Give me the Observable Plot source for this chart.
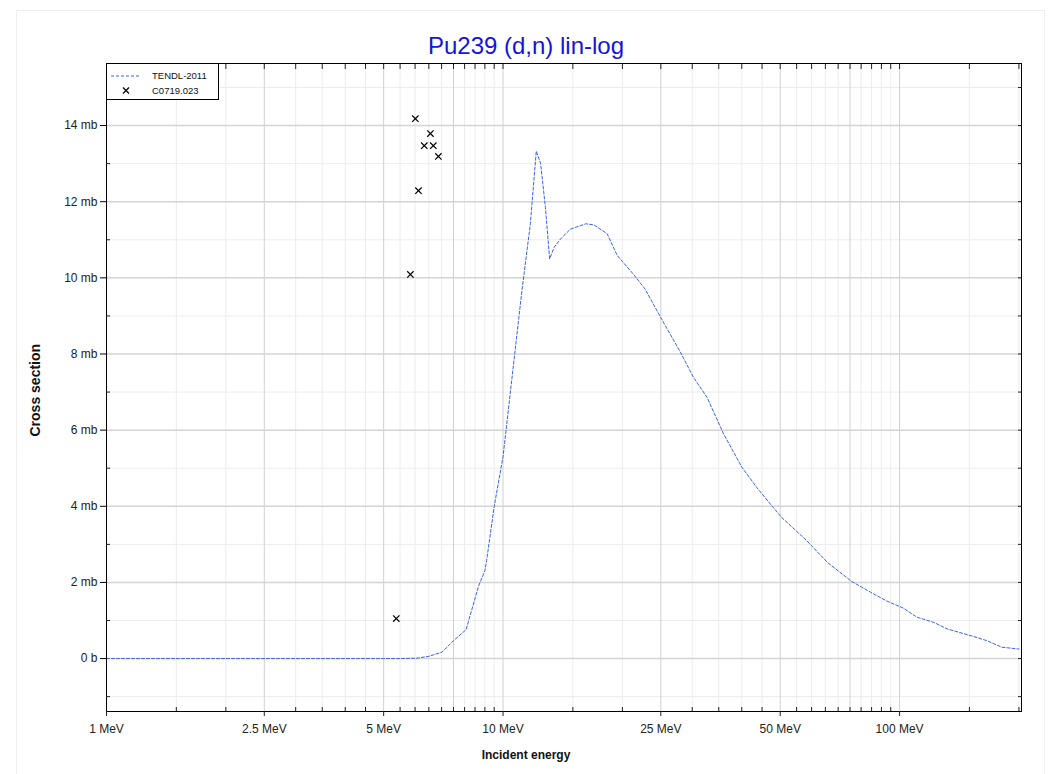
<!DOCTYPE html>
<html><head><meta charset="utf-8">
<script src="https://cdn.jsdelivr.net/npm/d3@7"></script>
<script src="https://cdn.jsdelivr.net/npm/@observablehq/plot@0.6"></script>
<style>
html,body{margin:0;padding:0;background:#fff;}
#wrap{position:relative;width:1051px;height:774px;overflow:hidden;}
#border{position:absolute;left:16px;top:10px;width:1029px;height:780px;border:1px solid #eeeeee;box-sizing:border-box;}
#chart{position:absolute;left:0;top:0;}
</style></head><body><div id="wrap"><div id="border"></div><div id="chart"></div></div>
<script>
// TENDL-2011 evaluated cross section (MeV, mb)
const tendlEnergy = [1, 2, 3, 4, 5, 5.5, 6.07, 6.5, 7.02, 7.5, 8.07, 8.28, 8.68, 9.0, 9.09, 9.5, 10.0, 11.16, 11.72, 12.13, 12.44, 12.79, 13.11, 13.45, 13.96, 14.79, 16.18, 16.96, 18.3, 19.4, 21.3, 22.8, 25.1, 28.0, 30.2, 32.7, 36.0, 40.0, 43.6, 48.0, 50.5, 58.3, 65.7, 75.6, 86.0, 92.9, 102, 110.5, 122, 131.8, 153.7, 166, 181, 200];
const tendlXS = [0, 0, 0, 0, 0, 0, 0.01, 0.06, 0.17, 0.47, 0.76, 1.17, 1.91, 2.31, 2.57, 4.0, 5.3, 9.67, 11.42, 13.33, 13.0, 11.85, 10.5, 10.8, 11.02, 11.28, 11.42, 11.39, 11.16, 10.59, 10.1, 9.71, 8.92, 8.05, 7.39, 6.86, 5.9, 5.03, 4.5, 3.97, 3.7, 3.1, 2.53, 2.03, 1.7, 1.51, 1.33, 1.09, 0.95, 0.78, 0.58, 0.47, 0.3, 0.25];
// EXFOR C0719.023 measurements (MeV, mb)
const expEnergy = [5.38, 5.84, 6.01, 6.12, 6.33, 6.56, 6.67, 6.87];
const expXS = [1.05, 10.09, 14.18, 12.29, 13.47, 13.79, 13.47, 13.19];
// ticks / grid
const xLabelTicks = [1, 2.5, 5, 10, 25, 50, 100];
const xMajorGrid = [2.5, 5, 7.5, 10, 25, 50, 75, 100];
const xMinorGrid = [1.5, 2, 3, 3.5, 4, 4.5, 5.5, 6, 6.5, 7, 8, 8.5, 9, 9.5, 15, 20, 30, 35, 40, 45, 55, 60, 65, 70, 80, 85, 90, 95, 150, 200];
const yMajorTicks = [0, 2, 4, 6, 8, 10, 12, 14];
const yMinorTicks = [-1, 1, 3, 5, 7, 9, 11, 13, 15];

const tendl = tendlEnergy.map((e, i) => ({e, xs: tendlXS[i]}));
const exp = expEnergy.map((e, i) => ({e, xs: expXS[i]}));
const allX = [...xMajorGrid, ...xMinorGrid];
const allY = [...yMajorTicks, ...yMinorTicks];
const fmtY = d => d === 0 ? "0 b" : `${d} mb`;
const blank = () => "";
const curveColor = "#3b63e6";
const FONT = "'Liberation Sans', Arial, sans-serif";

const svg = Plot.plot({
  width: 1051, height: 774,
  marginLeft: 106, marginRight: 30, marginTop: 63, marginBottom: 63,
  x: {type: "log", domain: [1, 203]},
  y: {domain: [-1.39, 15.63]},
  style: {fontFamily: FONT, fontSize: "12px", color: "#222", background: "transparent", overflow: "visible"},
  marks: [
    Plot.gridX(xMinorGrid, {stroke: "#ececec", strokeOpacity: 1}),
    Plot.gridY(yMinorTicks, {stroke: "#ececec", strokeOpacity: 1}),
    Plot.gridX(xMajorGrid, {stroke: "#d0d0d0", strokeOpacity: 1}),
    Plot.gridY(yMajorTicks, {stroke: "#d4d4d4", strokeOpacity: 1, strokeWidth: 1.5}),
    Plot.line(tendl, {x: "e", y: "xs", stroke: curveColor, strokeWidth: 1, strokeDasharray: "3,2"}),
    Plot.dot(exp, {x: "e", y: "xs", symbol: "times", r: 3, stroke: "black", strokeWidth: 1.2}),
    Plot.frame({stroke: "black"}),
    Plot.axisY(yMajorTicks, {anchor: "left", tickSize: 6, tickPadding: 3, tickFormat: fmtY, label: null, fontSize: 12, stroke: "black"}),
    Plot.axisY(yMinorTicks, {anchor: "left", tickSize: -4, tickFormat: blank, label: null}),
    Plot.axisY(allY, {anchor: "right", tickSize: -4, tickFormat: blank, label: null}),
    Plot.axisX(xLabelTicks, {anchor: "bottom", tickSize: 5, tickPadding: 8, tickFormat: d => `${d} MeV`, label: null, fontSize: 12}),
    Plot.axisX([7.5, 75, ...xMinorGrid], {anchor: "bottom", tickSize: -4, tickFormat: blank, label: null}),
    Plot.axisX([1, ...allX], {anchor: "top", tickSize: -5, tickFormat: blank, label: null}),
    Plot.text(["Pu239 (d,n) lin-log"], {text: d => d, frameAnchor: "top", dx: -38, dy: -27, fontSize: 24, fill: "#1414dc"}),
    Plot.text(["Incident energy"], {text: d => d, frameAnchor: "bottom", dx: -38, dy: 47, fontSize: 12, fontWeight: "bold", fill: "#111"}),
    Plot.text(["Cross section"], {text: d => d, frameAnchor: "left", rotate: -90, dx: -71, dy: 49, fontSize: 14, fontWeight: "bold", fill: "#111"})
  ]
});

// legend box (top-left inside the frame)
const lg = d3.select(svg).append("g").attr("font-family", FONT).attr("font-size", 9.5)
  .attr("fill", "#111").attr("text-anchor", "start");
lg.append("rect").attr("x", 106.5).attr("y", 63.5).attr("width", 112).attr("height", 36)
  .attr("fill", "white").attr("stroke", "black");
lg.append("line").attr("x1", 111).attr("x2", 140).attr("y1", 76).attr("y2", 76)
  .attr("stroke", curveColor).attr("stroke-dasharray", "3,2");
lg.append("path").attr("d", "M123,87.5L129,93.5M129,87.5L123,93.5").attr("stroke", "black").attr("stroke-width", 1.2);
lg.append("text").attr("x", 152).attr("y", 76).attr("dy", "0.35em").text("TENDL-2011");
lg.append("text").attr("x", 152).attr("y", 90.5).attr("dy", "0.35em").text("C0719.023");

document.getElementById("chart").appendChild(svg);
</script></body></html>
